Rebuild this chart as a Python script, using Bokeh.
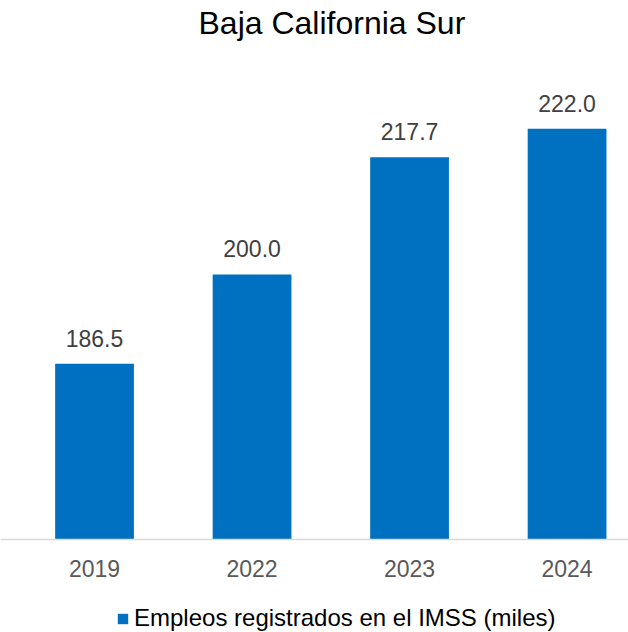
from bokeh.plotting import figure
from bokeh.models import ColumnDataSource, Range1d, LabelSet, Legend, LegendItem, Span
from bokeh.core.properties import value
from bokeh.embed import file_html
from bokeh.resources import INLINE

# Data
years = ["2019", "2022", "2023", "2024"]
empleos = [186.5, 200.0, 217.7, 222.0]
title_text = "Baja California Sur"
series_name = "Empleos registrados en el IMSS (miles)"
y_base = 160.0  # value axis starts here

FONT = "Liberation Sans"
BLUE = "#0070C0"

idx = list(range(len(years)))
src = ColumnDataSource(dict(x=idx, top=empleos, base=[y_base] * len(idx),
                            lab=[f"{v:.1f}" for v in empleos], year=years))

p = figure(width=628, height=632, output_backend="svg", toolbar_location=None,
           x_range=Range1d(-0.597, 3.390), y_range=Range1d(145.95, 235.01),
           x_axis_location=None, y_axis_location=None,
           min_border_left=0, min_border_right=0, min_border_top=0, min_border_bottom=0)

p.title.text = title_text
p.title.align = "left"
p.title.offset = 198
p.title.text_font = FONT
p.title.text_font_size = "32px"
p.title.text_font_style = "normal"
p.title.text_color = "#000000"
p.title.standoff = 4

r = p.vbar(x="x", top="top", bottom="base", width=0.5, source=src, fill_color=BLUE, line_color=None)

# category axis baseline
p.add_layout(Span(location=y_base, dimension="width", line_color="#D9D9D9", line_width=1.5))

# value labels
p.add_layout(LabelSet(x="x", y="top", text="lab", source=src, y_offset=17, text_align="center",
                      text_baseline="alphabetic", text_font=value(FONT), text_font_size="23px",
                      text_color="#404040"))

# category labels
p.add_layout(LabelSet(x="x", y="base", text="year", source=src, y_offset=-38, text_align="center",
                      text_baseline="alphabetic", text_font=value(FONT), text_font_size="23px",
                      text_color="#595959"))

p.xgrid.visible = False
p.ygrid.visible = False
p.outline_line_color = None

legend = Legend(items=[LegendItem(label=series_name, renderers=[r])], location=(116, 0),
                orientation="horizontal", label_text_font=FONT, label_text_font_size="24px",
                label_text_color="#000000", glyph_width=13, glyph_height=13, label_standoff=5,
                border_line_color=None, background_fill_color=None, padding=0, margin=0,
                label_height=24)
p.add_layout(legend)

open("out.html", "w").write(file_html(p, INLINE))
